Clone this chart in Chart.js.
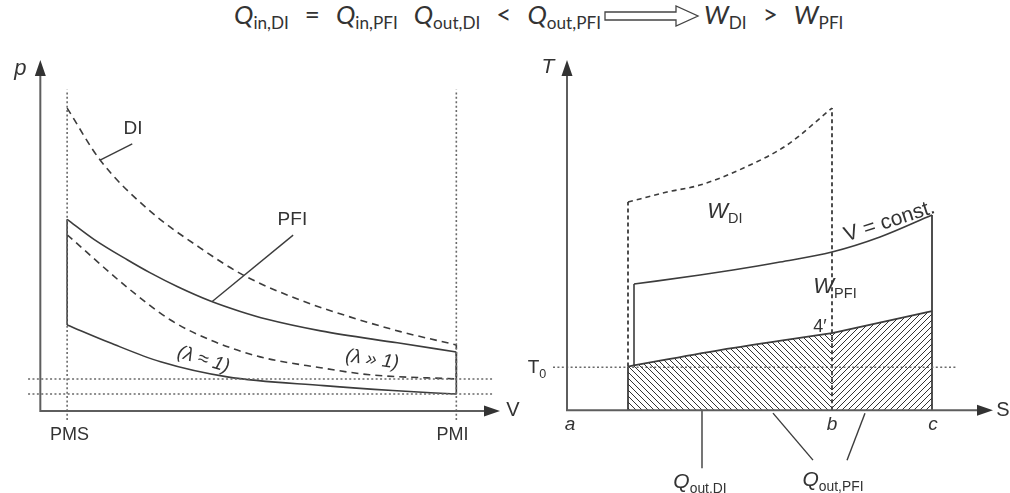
<!DOCTYPE html>
<html>
<head>
<meta charset="utf-8">
<script src="https://cdn.jsdelivr.net/npm/chart.js@4.4.1/dist/chart.umd.min.js"></script>
<style>
  body { margin: 0; background: #fff; width: 1010px; height: 493px; overflow: hidden; position: relative; }
  #pv { position: absolute; left: 0; top: 0; }
  #ts { position: absolute; left: 520px; top: 0; }
  #title { position: absolute; left: 234px; top: -2px; font-family: Lato, "Open Sans", sans-serif; font-size: 26px; color: #333; white-space: nowrap; }
  #title span { margin-right: 16px; }
  #title sub { font-size: 0.66em; vertical-align: -0.3em; line-height: 0; }
  #title svg { vertical-align: -3px; margin-right: 4px; }
</style>
</head>
<body>
<div id="title"><span><i>Q</i><sub>in,DI</sub></span><span>=</span><span><i>Q</i><sub>in,PFI</sub></span><span><i>Q</i><sub>out,DI</sub></span><span>&lt;</span><span style="margin-right:3px"><i>Q</i><sub>out,PFI</sub></span><svg width="96" height="22"><polygon points="1,7 72,7 72,1 94,11 72,21 72,15 1,15" fill="#fff" stroke="#444" stroke-width="1.3"/></svg><span><i>W</i><sub>DI</sub></span><span>&gt;</span><i>W</i><sub>PFI</sub></div>
<canvas id="pv" width="520" height="493"></canvas>
<canvas id="ts" width="490" height="493"></canvas>
<script>
// p-V diagram: V in cm3, p in bar
const volPMS = 35, volPMI = 543;
const diExpV = [35, 78, 143, 209, 265, 339, 404, 470, 543];
const diExpP = [86.3, 71.5, 57.0, 46.4, 38.7, 31.6, 26.8, 22.6, 18.8];
const pfiExpV = [35, 70, 114, 143, 180, 222, 260, 296, 366, 466, 543];
const pfiExpP = [54.6, 48.9, 43.0, 39.4, 35.3, 31.3, 28.4, 26.1, 22.8, 19.4, 16.8];
const diCompV = [35, 114, 170, 222, 287, 366, 430, 543];
const diCompP = [50.2, 35.1, 25.9, 20.2, 15.4, 12.3, 10.3, 9.1];
const pfiCompV = [35, 91, 157, 244, 370, 460, 543];
const pfiCompP = [24.5, 19.4, 14.0, 9.7, 7.2, 5.8, 4.8];
const pRefSpan = [-2.6, 91.5];
const vRefSpan = [-16, 591];

// T-S diagram: S in kJ/K, T in K
const sDI = 1.22, sPFI = 1.34, sB = 5.3, sC = 7.3;
const tZero = 300;
const diHeatS = [1.22, 2.0, 2.66, 3.66, 4.4, 5.3];
const diHeatT = [1456, 1526, 1575, 1715, 1855, 2114];
const pfiHeatS = [1.34, 2.66, 3.32, 4.26, 5.3, 6.26, 7.3];
const pfiHeatT = [882, 945, 980, 1036, 1106, 1211, 1365];
const rejDiS = [1.22, 3.06, 5.3];
const rejDiT = [305, 420, 539];
const rejPfiS = [5.3, 7.3];
const rejPfiT = [539, 693];
const tZeroSpan = [-0.28, 7.8];

const LN = '#3c3c3c', AX = '#5e5e5e', TX = '#333', REF = '#6a6a6a';
const dashed = [7, 5], dotted = [2, 2.4];

const xy = (xs, ys) => xs.map((v, i) => ({ x: v, y: ys[i] }));
function line(data, o = {}) {
  return Object.assign({ data, borderColor: LN, borderWidth: 1.6, pointRadius: 0, fill: false, clip: false, tension: 0 }, o);
}
const curve = { cubicInterpolationMode: 'monotone' };

function hatch(dir) {
  const s = 6, c = document.createElement('canvas');
  c.width = c.height = s;
  const g = c.getContext('2d');
  g.strokeStyle = '#333';
  g.lineWidth = 1.0;
  g.beginPath();
  for (const k of [-1, 0, 1]) {
    if (dir > 0) { g.moveTo(k * s, s); g.lineTo(k * s + s, 0); }
    else { g.moveTo(k * s, 0); g.lineTo(k * s + s, s); }
  }
  g.stroke();
  return g.createPattern(c, 'repeat');
}

function arrows(ctx, o, xe, ye) {
  ctx.strokeStyle = AX; ctx.fillStyle = '#333'; ctx.lineWidth = 2;
  ctx.beginPath();
  ctx.moveTo(xe[0] - 10, o[1]); ctx.lineTo(o[0], o[1]); ctx.lineTo(o[0], ye[1] + 10);
  ctx.stroke();
  ctx.beginPath();
  ctx.moveTo(xe[0], xe[1]); ctx.lineTo(xe[0] - 16, xe[1] - 5.5); ctx.lineTo(xe[0] - 16, xe[1] + 5.5); ctx.closePath();
  ctx.moveTo(ye[0], ye[1]); ctx.lineTo(ye[0] - 5.5, ye[1] + 16); ctx.lineTo(ye[0] + 5.5, ye[1] + 16); ctx.closePath();
  ctx.fill();
}

// parts: [text, italic, subscript]
function rich(ctx, px, py, parts, size, rot = 0) {
  const fam = '"Liberation Sans", Arial, sans-serif';
  const fnt = p => (p[1] ? 'italic ' : '') + (p[2] ? size * 0.66 : size) + 'px ' + fam;
  let w = 0;
  parts.forEach(p => { ctx.font = fnt(p); w += ctx.measureText(p[0]).width; });
  ctx.save();
  ctx.translate(px, py);
  ctx.rotate(rot * Math.PI / 180);
  ctx.fillStyle = TX;
  ctx.textBaseline = 'middle';
  ctx.textAlign = 'left';
  let cx = -w / 2;
  parts.forEach(p => {
    ctx.font = fnt(p);
    ctx.fillText(p[0], cx, p[2] ? size * 0.32 : 0);
    cx += ctx.measureText(p[0]).width;
  });
  ctx.restore();
}

function baseOptions(pad, xr, yr) {
  return {
    responsive: false, animation: false, devicePixelRatio: 1,
    layout: { padding: pad },
    plugins: { legend: { display: false }, tooltip: { enabled: false } },
    scales: {
      x: { type: 'linear', display: false, min: xr[0], max: xr[1] },
      y: { type: 'linear', display: false, min: yr[0], max: yr[1] }
    }
  };
}

const pvDecor = {
  id: 'pvDecor',
  afterDatasetsDraw(chart) {
    const { ctx, scales: { x, y } } = chart;
    const P = (a, b) => [x.getPixelForValue(a), y.getPixelForValue(b)];
    ctx.save();
    arrows(ctx, P(0, 0), P(x.max, 0), P(0, y.max));
    rich(ctx, ...P(-26, 97.5), [['p', true]], 22);
    rich(ctx, ...P(617, 0), [['V']], 20);
    rich(ctx, ...P(volPMS + 3, -7), [['PMS']], 18);
    rich(ctx, ...P(volPMI - 5, -7), [['PMI']], 18);
    rich(ctx, ...P(121, 80.5), [['DI']], 19);
    rich(ctx, ...P(329, 54.4), [['PFI']], 19);
    rich(ctx, ...P(213, 14.6), [['(λ ≈ 1)', true]], 19, 17);
    rich(ctx, ...P(433, 14.6), [['(λ » 1)', true]], 19, 8);
    ctx.restore();
  }
};

const tsDecor = {
  id: 'tsDecor',
  afterDatasetsDraw(chart) {
    const { ctx, scales: { x, y } } = chart;
    const P = (a, b) => [x.getPixelForValue(a), y.getPixelForValue(b)];
    ctx.save();
    arrows(ctx, P(0, 0), P(x.max, 0), P(0, y.max));
    rich(ctx, ...P(-0.38, 2400), [['T', true]], 21);
    rich(ctx, ...P(8.72, 0), [['S']], 20);
    rich(ctx, ...P(0.06, -105), [['a', true]], 19);
    rich(ctx, ...P(sB, -105), [['b', true]], 19);
    rich(ctx, ...P(sC + 0.02, -105), [['c', true]], 19);
    rich(ctx, ...P(-0.6, 295), [['T'], ['0', false, true]], 19);
    rich(ctx, ...P(3.16, 1386), [['W', true], ['DI', false, true]], 22);
    rich(ctx, ...P(6.45, 1320), [['V = const.']], 21, -18);
    rich(ctx, ...P(5.36, 861), [['W', true], ['PFI', false, true]], 22);
    rich(ctx, ...P(5.06, 581), [['4′']], 18);
    rich(ctx, ...P(2.66, -505), [['Q', true], ['out,DI', false, true]], 21);
    rich(ctx, ...P(5.32, -490), [['Q', true], ['out,PFI', false, true]], 21);
    ctx.restore();
  }
};

new Chart(document.getElementById('pv'), {
  type: 'line',
  data: {
    datasets: [
      line(xy([volPMS, volPMS], pRefSpan), { borderDash: dotted, borderColor: REF, borderWidth: 1.6 }),
      line(xy([volPMI, volPMI], pRefSpan), { borderDash: dotted, borderColor: REF, borderWidth: 1.6 }),
      line(xy(vRefSpan, [diCompP.at(-1), diCompP.at(-1)]), { borderDash: dotted, borderColor: REF, borderWidth: 1.4 }),
      line(xy(vRefSpan, [pfiCompP.at(-1), pfiCompP.at(-1)]), { borderDash: dotted, borderColor: REF, borderWidth: 1.4 }),
      line(xy(diExpV, diExpP), Object.assign({ borderDash: dashed }, curve)),
      line(xy(pfiExpV, pfiExpP), curve),
      line(xy(diCompV, diCompP), Object.assign({ borderDash: dashed }, curve)),
      line(xy(pfiCompV, pfiCompP), curve),
      line(xy([volPMS, volPMS], [pfiCompP[0], pfiExpP[0]])),
      line(xy([volPMI, volPMI], [pfiExpP.at(-1), pfiCompP.at(-1)])),
      line(xy([volPMI, volPMI], [diExpP.at(-1), diCompP.at(-1)]), { borderDash: [4, 3] }),
      line(xy([120, 78], [76.1, 71.5]), { borderWidth: 1.4 }),
      line(xy([330, 224], [50.1, 31.1]), { borderWidth: 1.4 })
    ]
  },
  options: baseOptions({ left: 25, right: 20, top: 60, bottom: 47 }, [-20, 600], [-10, 100]),
  plugins: [pvDecor]
});

new Chart(document.getElementById('ts'), {
  type: 'line',
  data: {
    datasets: [
      line(xy(rejDiS, rejDiT), Object.assign({ fill: 'origin', backgroundColor: hatch(-1), borderWidth: 1.8 }, curve)),
      line(xy(rejPfiS, rejPfiT), { fill: 'origin', backgroundColor: hatch(1), borderWidth: 1.8 }),
      line(xy(tZeroSpan, [tZero, tZero]), { borderDash: dotted, borderColor: REF, borderWidth: 1.4 }),
      line(xy(diHeatS, diHeatT), Object.assign({ borderDash: [5, 4] }, curve)),
      line(xy(pfiHeatS, pfiHeatT), curve),
      line(xy([sDI, sDI], [rejDiT[0], diHeatT[0]]), { borderDash: [4, 3], borderWidth: 1.8 }),
      line(xy([sDI, sDI], [0, rejDiT[0]]), { borderWidth: 1.8 }),
      line(xy([sPFI, sPFI], [312, pfiHeatT[0]])),
      line(xy([sB, sB], [0, diHeatT.at(-1)]), { borderDash: [4, 3], borderWidth: 1.8 }),
      line(xy([sC, sC], [0, pfiHeatT.at(-1)]), { borderWidth: 1.8 }),
      line(xy([2.7, 2.7], [0, -406]), { borderWidth: 1.4 }),
      line(xy([4.12, 4.92], [-21, -350]), { borderWidth: 1.4 }),
      line(xy([5.96, 5.6], [-21, -350]), { borderWidth: 1.4 })
    ]
  },
  options: baseOptions({ left: 22, right: 17, top: 60, bottom: 40 }, [-0.5, 8.52], [-300, 2450]),
  plugins: [tsDecor]
});
</script>
</body>
</html>
